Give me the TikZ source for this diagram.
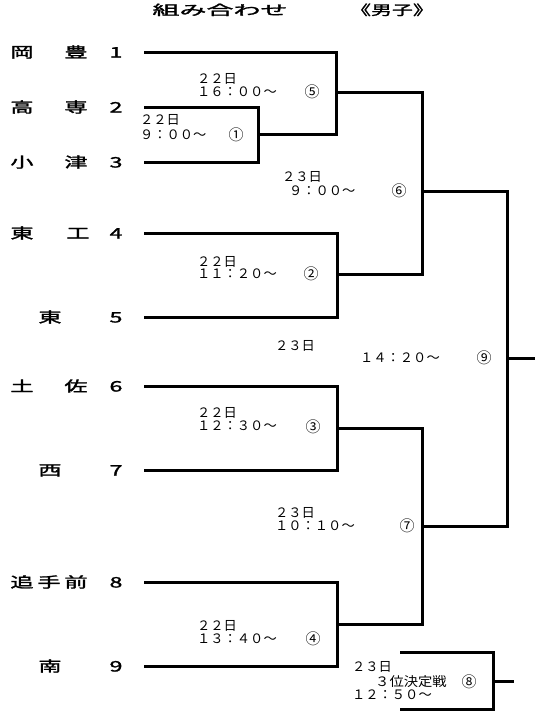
\documentclass[tikz,border=0pt]{standalone}
\usepackage{graphicx}
\usepackage{fontspec}
\newfontfamily\jp{Noto Sans CJK JP}
\newfontfamily\jpb[FakeBold=1.5]{Noto Sans CJK JP}
\newcommand\sx[2]{\scalebox{#1}[1]{#2}}
\begin{document}
\begin{tikzpicture}[x=1pt,y=-1pt,
  bk/.style={line width=3pt, line join=miter},
  tm/.style={inner sep=0pt, font=\jpb\fontsize{14.5}{14.5}\selectfont, text height=12pt, text depth=1pt},
  ttl/.style={inner sep=0pt, font=\jpb\fontsize{13.5}{13.5}\selectfont, text height=11pt, text depth=1pt},
  lb/.style={inner sep=0pt, anchor=west, font=\jp\fontsize{13}{13}\selectfont, text height=10.5pt, text depth=0.7pt},
  cn/.style={inner sep=0pt, font=\jp\fontsize{15}{15}\selectfont, text height=11.9pt, text depth=0.6pt}]
\useasboundingbox[fill=white] (0,0) rectangle (553,720);

% title
\node[ttl] (title1) at (220,10) {\sx{2.0}{組み合わせ}};
\node[ttl] (title2) at (392,10) {\sx{1.55}{《男子》}};

% team names
\foreach \name/\x/\y [count=\i] in {
  岡/22/52, 豊/76/52, 1/116/52,
  高/22/107, 専/76/107, 2/116/107,
  小/22/162, 津/76/162, 3/116/162,
  東/22/233, 工/78/233, 4/116/233,
  東/50/317, 5/116/317,
  土/22/386, 佐/76/386, 6/116/386,
  西/50/470, 7/116/470,
  追/22/582, 手/49/582, 前/76/582, 8/116/582,
  南/50/666, 9/116/666}
  \node[tm] (tn\i) at (\x,\y) {\sx{1.6}{\name}};

% team line starts
\coordinate (s1) at (144,52);
\coordinate (s2) at (144,107);
\coordinate (s3) at (144,162);
\coordinate (s4) at (144,233);
\coordinate (s5) at (144,317);
\coordinate (s6) at (144,386);
\coordinate (s7) at (144,470);
\coordinate (s8) at (144,582);
\coordinate (s9) at (144,666);
% junctions
\coordinate (j1) at (258,134);
\coordinate (j5) at (336,92);
\coordinate (j2) at (337,274);
\coordinate (j6) at (422,191);
\coordinate (j3) at (337,428);
\coordinate (j4) at (337,624);
\coordinate (j7) at (422,526);
\coordinate (j9) at (507,358);
\coordinate (w9) at (535,358);
\coordinate (c8a) at (400,652);
\coordinate (c8b) at (400,709);
\coordinate (j8) at (493,681);
\coordinate (w8) at (514,681);

\draw[bk] (s2) -| (j1) |- (s3);
\draw[bk] (s1) -| (j5) |- (j1);
\draw[bk] (s4) -| (j2) |- (s5);
\draw[bk] (j5) -| (j6) |- (j2);
\draw[bk] (s6) -| (j3) |- (s7);
\draw[bk] (s8) -| (j4) |- (s9);
\draw[bk] (j3) -| (j7) |- (j4);
\draw[bk] (j6) -| (j9) |- (j7);
\draw[bk] (j9) -- (w9);
\draw[bk] (c8a) -| (j8) |- (c8b);
\draw[bk] (j8) -- (w8);

% match labels
\node[lb] (d5) at (197,79) {\sx{1.02}{２２日}};
\node[lb] (t5) at (197,92) {\sx{1.02}{１６：００～}};
\node[cn] (n5) at (312,92) {⑤};

\node[lb] (d1) at (140,120) {\sx{1.02}{２２日}};
\node[lb] (t1) at (140,135) {\sx{1.02}{９：００～}};
\node[cn] (n1) at (236,135) {①};

\node[lb] (d6) at (282,177) {\sx{1.02}{２３日}};
\node[lb] (t6) at (289,191) {\sx{1.02}{９：００～}};
\node[cn] (n6) at (399,191) {⑥};

\node[lb] (d2) at (197,262) {\sx{1.02}{２２日}};
\node[lb] (t2) at (197,274) {\sx{1.02}{１１：２０～}};
\node[cn] (n2) at (311,274) {②};

\node[lb] (d9) at (275,346) {\sx{1.02}{２３日}};
\node[lb] (t9) at (360,358) {\sx{1.02}{１４：２０～}};
\node[cn] (n9) at (484,358) {⑨};

\node[lb] (d3) at (197,413) {\sx{1.02}{２２日}};
\node[lb] (t3) at (197,426) {\sx{1.02}{１２：３０～}};
\node[cn] (n3) at (313,427) {③};

\node[lb] (d7) at (275,513) {\sx{1.02}{２３日}};
\node[lb] (t7) at (275,526) {\sx{1.02}{１０：１０～}};
\node[cn] (n7) at (407,526) {⑦};

\node[lb] (d4) at (197,626) {\sx{1.02}{２２日}};
\node[lb] (t4) at (197,639) {\sx{1.02}{１３：４０～}};
\node[cn] (n4) at (313,639) {④};

\node[lb] (d8) at (352,667) {\sx{1.02}{２３日}};
\node[lb] (k8) at (375,682) {\sx{1.1}{３位決定戦}};
\node[cn] (n8) at (469,682) {⑧};
\node[lb] (t8) at (352,695) {\sx{1.02}{１２：５０～}};
\end{tikzpicture}
\end{document}
